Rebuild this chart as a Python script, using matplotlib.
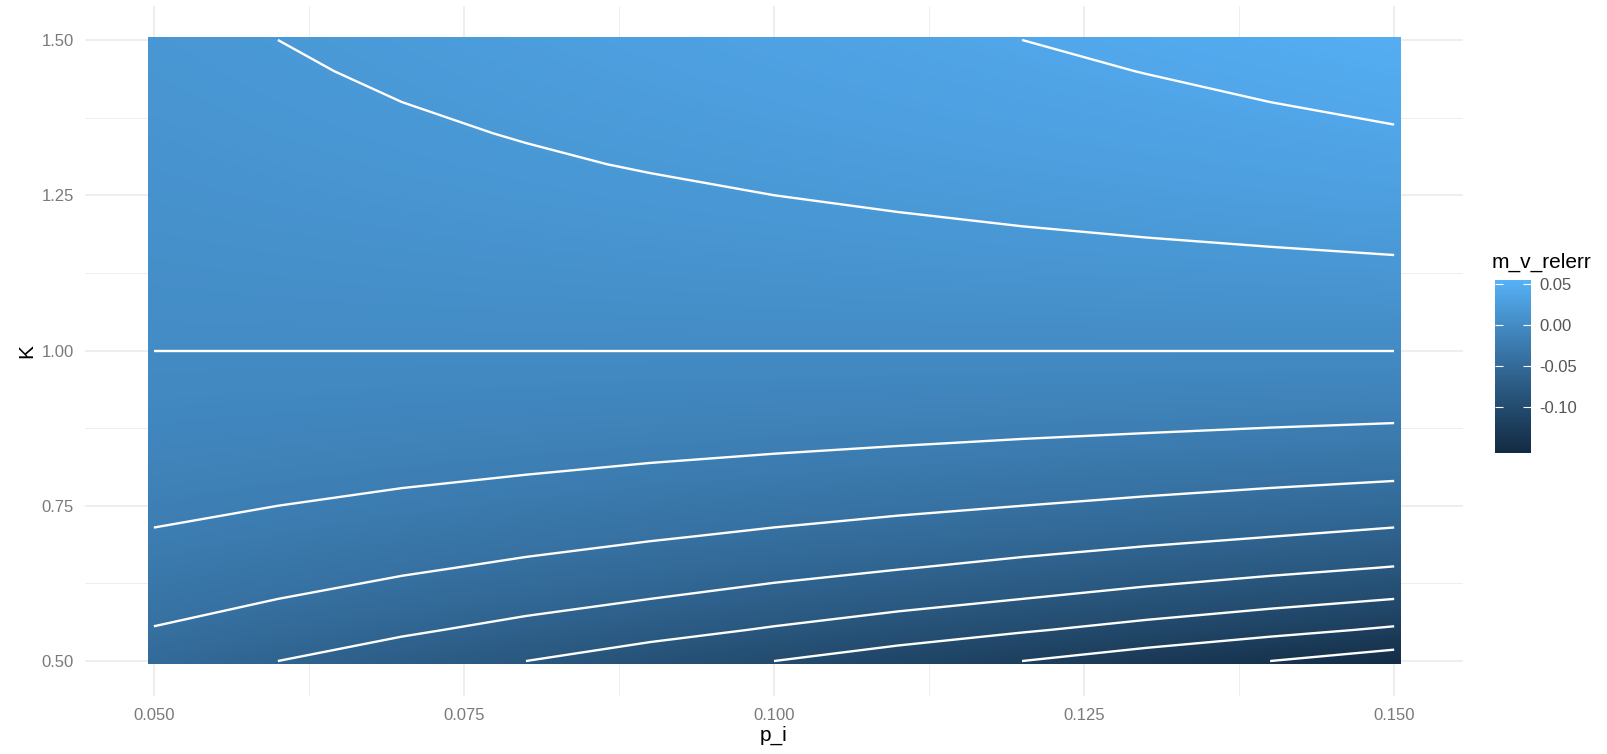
#!/usr/bin/env python3
import numpy as np
import matplotlib
matplotlib.use('Agg')
import matplotlib.pyplot as plt
from matplotlib.colors import ListedColormap, Normalize, to_rgb
from matplotlib.patches import Rectangle

# grid (relative error of m_v)
p_i = [0.05, 0.06, 0.07, 0.08, 0.09, 0.10, 0.11, 0.12, 0.13, 0.14, 0.15]
K = [0.50, 0.55, 0.60, 0.65, 0.70, 0.75, 0.80, 0.85, 0.90, 0.95, 1.00,
     1.05, 1.10, 1.15, 1.20, 1.25, 1.30, 1.35, 1.40, 1.45, 1.50]
m_v_relerr = [
    [-0.0500, -0.0600, -0.0700, -0.0800, -0.0900, -0.1000, -0.1100, -0.1200, -0.1300, -0.1400, -0.1500],
    [-0.0409, -0.0491, -0.0573, -0.0655, -0.0736, -0.0818, -0.0900, -0.0982, -0.1064, -0.1145, -0.1227],
    [-0.0333, -0.0400, -0.0467, -0.0533, -0.0600, -0.0667, -0.0733, -0.0800, -0.0867, -0.0933, -0.1000],
    [-0.0269, -0.0323, -0.0377, -0.0431, -0.0485, -0.0538, -0.0592, -0.0646, -0.0700, -0.0754, -0.0808],
    [-0.0214, -0.0257, -0.0300, -0.0343, -0.0386, -0.0429, -0.0471, -0.0514, -0.0557, -0.0600, -0.0643],
    [-0.0167, -0.0200, -0.0233, -0.0267, -0.0300, -0.0333, -0.0367, -0.0400, -0.0433, -0.0467, -0.0500],
    [-0.0125, -0.0150, -0.0175, -0.0200, -0.0225, -0.0250, -0.0275, -0.0300, -0.0325, -0.0350, -0.0375],
    [-0.0088, -0.0106, -0.0124, -0.0141, -0.0159, -0.0176, -0.0194, -0.0212, -0.0229, -0.0247, -0.0265],
    [-0.0056, -0.0067, -0.0078, -0.0089, -0.0100, -0.0111, -0.0122, -0.0133, -0.0144, -0.0156, -0.0167],
    [-0.0026, -0.0032, -0.0037, -0.0042, -0.0047, -0.0053, -0.0058, -0.0063, -0.0068, -0.0074, -0.0079],
    [0.0000, 0.0000, 0.0000, 0.0000, 0.0000, 0.0000, 0.0000, 0.0000, 0.0000, 0.0000, 0.0000],
    [0.0024, 0.0029, 0.0033, 0.0038, 0.0043, 0.0048, 0.0052, 0.0057, 0.0062, 0.0067, 0.0071],
    [0.0045, 0.0055, 0.0064, 0.0073, 0.0082, 0.0091, 0.0100, 0.0109, 0.0118, 0.0127, 0.0136],
    [0.0065, 0.0078, 0.0091, 0.0104, 0.0117, 0.0130, 0.0143, 0.0157, 0.0170, 0.0183, 0.0196],
    [0.0083, 0.0100, 0.0117, 0.0133, 0.0150, 0.0167, 0.0183, 0.0200, 0.0217, 0.0233, 0.0250],
    [0.0100, 0.0120, 0.0140, 0.0160, 0.0180, 0.0200, 0.0220, 0.0240, 0.0260, 0.0280, 0.0300],
    [0.0115, 0.0138, 0.0162, 0.0185, 0.0208, 0.0231, 0.0254, 0.0277, 0.0300, 0.0323, 0.0346],
    [0.0130, 0.0156, 0.0181, 0.0207, 0.0233, 0.0259, 0.0285, 0.0311, 0.0337, 0.0363, 0.0389],
    [0.0143, 0.0171, 0.0200, 0.0229, 0.0257, 0.0286, 0.0314, 0.0343, 0.0371, 0.0400, 0.0429],
    [0.0155, 0.0186, 0.0217, 0.0248, 0.0279, 0.0310, 0.0341, 0.0372, 0.0403, 0.0434, 0.0466],
    [0.0167, 0.0200, 0.0233, 0.0267, 0.0300, 0.0333, 0.0367, 0.0400, 0.0433, 0.0467, 0.0500],
]
contour_levels = [-0.14, -0.12, -0.10, -0.08, -0.06, -0.04, -0.02, 0.0, 0.02, 0.04]
x_ticks = [0.050, 0.075, 0.100, 0.125, 0.150]
y_ticks = [0.50, 0.75, 1.00, 1.25, 1.50]
legend_ticks = [0.05, 0.00, -0.05, -0.10]

FONT = ['Liberation Sans', 'DejaVu Sans']
TICK_COLOR = '#7a7a7a'
GRID = '#ebebeb'


# ggplot-like gradient: interpolate low/high colours in CIELAB
def _to_lab(hexcol):
    c = np.array(to_rgb(hexcol))
    c = np.where(c <= 0.04045, c / 12.92, ((c + 0.055) / 1.055) ** 2.4)
    M = np.array([[0.4124, 0.3576, 0.1805],
                  [0.2126, 0.7152, 0.0722],
                  [0.0193, 0.1192, 0.9505]])
    xyz = M @ c / np.array([0.95047, 1.0, 1.08883])
    f = np.where(xyz > 0.008856, np.cbrt(xyz), 7.787 * xyz + 16 / 116)
    return np.array([116 * f[1] - 16, 500 * (f[0] - f[1]), 200 * (f[1] - f[2])])


def _from_lab(lab):
    L, a, b = lab[..., 0], lab[..., 1], lab[..., 2]
    fy = (L + 16) / 116
    fx = fy + a / 500
    fz = fy - b / 200
    f = np.stack([fx, fy, fz], axis=-1)
    xyz = np.where(f ** 3 > 0.008856, f ** 3, (f - 16 / 116) / 7.787)
    xyz = xyz * np.array([0.95047, 1.0, 1.08883])
    Minv = np.array([[3.2406, -1.5372, -0.4986],
                     [-0.9689, 1.8758, 0.0415],
                     [0.0557, -0.2040, 1.0570]])
    rgb = xyz @ Minv.T
    rgb = np.where(rgb <= 0.0031308, 12.92 * rgb, 1.055 * np.clip(rgb, 0, None) ** (1 / 2.4) - 0.055)
    return np.clip(rgb, 0, 1)


lo, hi = _to_lab('#132B43'), _to_lab('#56B1F7')
t = np.linspace(0, 1, 256)[:, None]
cmap = ListedColormap(_from_lab(lo + (hi - lo) * t))
norm = Normalize(vmin=-0.156, vmax=0.055)

plt.rcParams['font.family'] = FONT

W, H = 1608, 754
fig = plt.figure(figsize=(W / 100, H / 100), dpi=100)
ax = fig.add_axes([85 / W, 1 - 695.5 / H, (1463 - 85) / W, (695.5 - 5.5) / H])

Z = np.array(m_v_relerr)
# image centred on the grid points, clipped to the raster's outer edge
dx = (p_i[1] - p_i[0]) / 2
dy = (K[1] - K[0]) / 2
im = ax.imshow(Z, origin='lower', aspect='auto', interpolation='bilinear',
               cmap=cmap, norm=norm,
               extent=[p_i[0] - dx, p_i[-1] + dx, K[0] - dy, K[-1] + dy], zorder=2)
clip = Rectangle((p_i[0] - 0.0005, K[0] - 0.005), p_i[-1] - p_i[0] + 0.001,
                 K[-1] - K[0] + 0.01, transform=ax.transData, fill=False)
im.set_clip_path(clip)
ax.contour(p_i, K, Z, levels=contour_levels, colors='white',
           linewidths=1.7, linestyles='solid', zorder=3)

ax.set_xlim(0.04445, 0.15555)
ax.set_ylim(0.4445, 1.5555)
ax.set_xticks(x_ticks)
ax.set_xticklabels([f'{v:.3f}' for v in x_ticks])
ax.set_yticks(y_ticks)
ax.set_yticklabels([f'{v:.2f}' for v in y_ticks])
ax.set_xticks([0.0625, 0.0875, 0.1125, 0.1375], minor=True)
ax.set_yticks([0.625, 0.875, 1.125, 1.375], minor=True)
ax.grid(which='major', color=GRID, linewidth=1.2, zorder=0)
ax.grid(which='minor', color=GRID, linewidth=0.6, zorder=0)
ax.set_axisbelow(True)
for s in ax.spines.values():
    s.set_visible(False)
ax.tick_params(which='both', length=0, labelsize=12, labelcolor=TICK_COLOR)
ax.tick_params(axis='x', pad=9)
ax.tick_params(axis='y', pad=8)
ax.set_xlabel('p_i', fontsize=15, labelpad=2)
ax.set_ylabel('K', fontsize=15, labelpad=4)

# colour bar legend
cax = fig.add_axes([1495 / W, 1 - 453 / H, 36 / W, 173 / H])
sm = plt.cm.ScalarMappable(norm=norm, cmap=cmap)
cb = fig.colorbar(sm, cax=cax, ticks=legend_ticks)
cb.outline.set_visible(False)
cb.ax.set_yticklabels([f'{v:.2f}' for v in legend_ticks])
cax.tick_params(which='both', direction='in', color='white', width=0.8,
                length=6, left=True, right=True, labelsize=12,
                labelcolor='#555555', pad=6)
cax.minorticks_off()
fig.text(1492 / W, 1 - 268 / H, 'm_v_relerr', fontsize=15, va='baseline', ha='left')

fig.savefig('out.png', dpi=100)
